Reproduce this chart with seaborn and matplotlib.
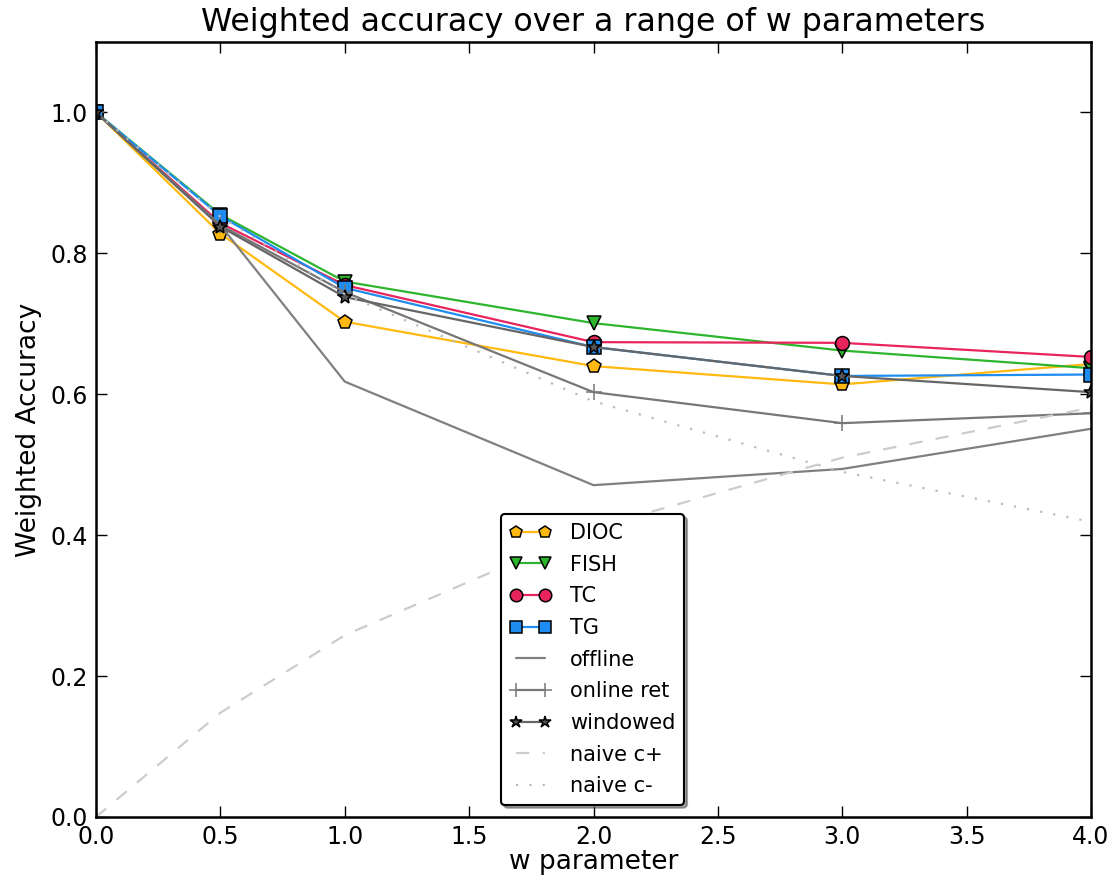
import matplotlib
matplotlib.use("Agg")
import matplotlib.pyplot as plt
import seaborn as sns
import pandas as pd

# w parameter values
w_values = [0.0, 0.5, 1.0, 2.0, 3.0, 4.0]

# weighted accuracy per method
dioc = [1.0, 0.828, 0.703, 0.640, 0.614, 0.643]
fish = [1.0, 0.855, 0.760, 0.701, 0.662, 0.637]
tc = [1.0, 0.843, 0.755, 0.674, 0.673, 0.653]
tg = [1.0, 0.853, 0.751, 0.667, 0.626, 0.628]
offline = [1.0, 0.840, 0.618, 0.471, 0.494, 0.551]
online_ret = [1.0, 0.840, 0.745, 0.603, 0.559, 0.573]
windowed = [1.0, 0.838, 0.738, 0.667, 0.626, 0.603]
naive_cplus = [0.0, 0.148, 0.258, 0.410, 0.510, 0.581]
naive_cminus = [1.0, 0.852, 0.742, 0.590, 0.490, 0.419]

series_names = ["DIOC", "FISH", "TC", "TG", "offline", "online ret",
                "windowed", "naive c+", "naive c-"]
series_values = [dioc, fish, tc, tg, offline, online_ret, windowed,
                 naive_cplus, naive_cminus]

styles = {
    "DIOC": dict(color="#FFB90F", marker="p", markersize=10, mfc="#FFB90F", mec="black", ls="-"),
    "FISH": dict(color="#2DB52D", marker="v", markersize=10, mfc="#2DB52D", mec="black", ls="-"),
    "TC": dict(color="#E8245C", marker="o", markersize=10, mfc="#E8245C", mec="black", ls="-"),
    "TG": dict(color="#1E8CF0", marker="s", markersize=10, mfc="#1E8CF0", mec="black", ls="-"),
    "offline": dict(color="#808080", marker=None, ls="-"),
    "online ret": dict(color="#777777", marker="+", markersize=11, mfc="#777777", mec="#777777", ls="-"),
    "windowed": dict(color="#666666", marker="*", markersize=10, mfc="#555555", mec="black", ls="-"),
    "naive c+": dict(color="#CCCCCC", marker=None, ls=(0, (6, 6))),
    "naive c-": dict(color="#BBBBBB", marker=None, ls=(0, (1, 5))),
}

df = pd.DataFrame(
    [(n, w, v) for n, vals in zip(series_names, series_values) for w, v in zip(w_values, vals)],
    columns=["method", "w", "acc"],
)

sns.set_theme(style="ticks")
plt.rcParams["font.family"] = ["DejaVu Sans"]
plt.rcParams["text.color"] = "black"
plt.rcParams["axes.labelcolor"] = "black"
plt.rcParams["xtick.color"] = "black"
plt.rcParams["ytick.color"] = "black"

fig = plt.figure(figsize=(11.18, 8.81), dpi=100)
ax = fig.add_axes([96 / 1118, 1 - 817 / 881, 995 / 1118, 775 / 881])

handles = []
for name in series_names:
    st = styles[name]
    sub = df[df["method"] == name]
    kw = dict(color=st["color"], linewidth=1.6, linestyle=st["ls"])
    if st["marker"] is not None:
        kw.update(marker=st["marker"], markersize=st["markersize"],
                  markerfacecolor=st["mfc"], markeredgecolor=st["mec"],
                  markeredgewidth=1.1)
    sns.lineplot(data=sub, x="w", y="acc", ax=ax, legend=False, **kw)
    handles.append(ax.lines[-1])

ax.set_xlim(0, 4)
ax.set_ylim(0, 1.1)
ax.set_xticks([0.0, 0.5, 1.0, 1.5, 2.0, 2.5, 3.0, 3.5, 4.0])
ax.set_yticks([0.0, 0.2, 0.4, 0.6, 0.8, 1.0])
ax.xaxis.set_major_formatter(matplotlib.ticker.FormatStrFormatter("%.1f"))
ax.yaxis.set_major_formatter(matplotlib.ticker.FormatStrFormatter("%.1f"))
ax.tick_params(direction="in", length=8, width=1, top=True, right=True,
               labelsize=17, pad=6, color="black", labelcolor="black")
for sp in ax.spines.values():
    sp.set_linewidth(1.8)
    sp.set_color("black")

ax.set_title("Weighted accuracy over a range of w parameters", fontsize=22.8,
             pad=8, color="black")
ax.set_xlabel("w parameter", fontsize=19, labelpad=0)
ax.set_ylabel("Weighted Accuracy", fontsize=19, labelpad=6)

leg = ax.legend(handles, series_names, loc="lower left",
                bbox_to_anchor=(0.407, 0.0155), borderaxespad=0,
                fontsize=15, numpoints=2, markerscale=0.9,
                shadow=True, fancybox=True, framealpha=1, edgecolor="black",
                handlelength=2.0, handletextpad=0.9, borderpad=0.42,
                labelspacing=0.56)
leg.get_frame().set_linewidth(1.5)
for t in leg.get_texts():
    t.set_color("black")

fig.savefig("out.png", dpi=100)
